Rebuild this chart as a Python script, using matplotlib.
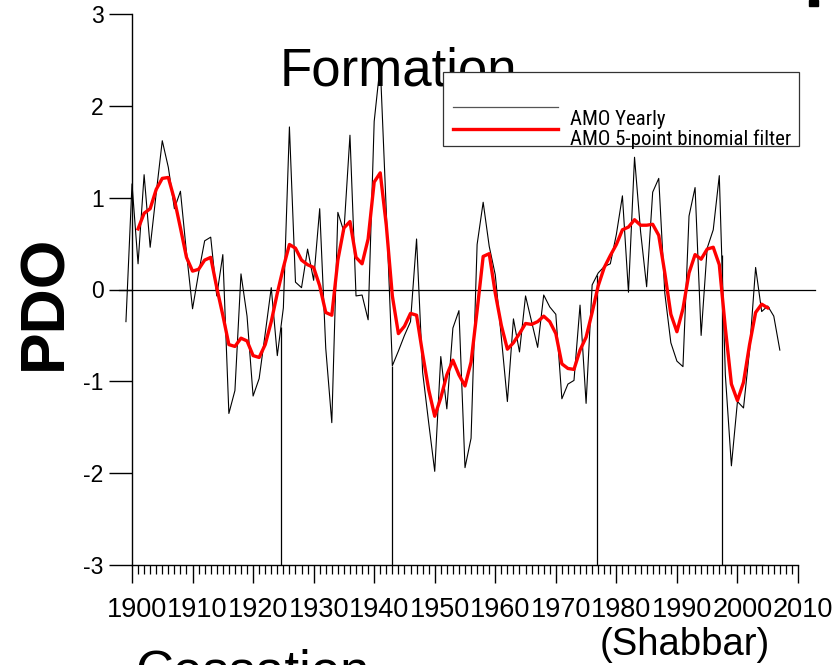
import numpy as np
import matplotlib
matplotlib.use("Agg")
import matplotlib.pyplot as plt
import matplotlib.transforms as mtransforms
from matplotlib import font_manager
from matplotlib.patches import Rectangle
from matplotlib.lines import Line2D
from matplotlib.ticker import MultipleLocator

# ---------------- data ----------------
amo_years = list(range(1899, 2008))
amo_yearly = [
    -0.35, 1.15, 0.28, 1.25, 0.46, 1.05, 1.62, 1.33, 0.88, 1.07,   # 1899-1908
    0.40, -0.21, 0.18, 0.53, 0.57, -0.07, 0.38, -1.35, -1.10, 0.17,  # 1909-1918
    -0.29, -1.16, -0.97, -0.48, 0.02, -0.72, -0.20, 1.77, 0.08, 0.02,  # 1919-1928
    0.44, 0.10, 0.88, -0.64, -1.45, 0.84, 0.63, 1.68, -0.07, -0.06,  # 1929-1938
    -0.33, 1.83, 2.45, 0.85, -0.83, -0.67, -0.50, -0.35, 0.55, -0.90,  # 1939-1948
    -1.45, -1.98, -0.73, -1.30, -0.42, -0.23, -1.94, -1.62, 0.49, 0.95,  # 1949-1958
    0.47, 0.16, -0.52, -1.22, -0.32, -0.68, -0.07, -0.35, -0.63, -0.06,  # 1959-1968
    -0.19, -0.27, -1.19, -1.03, -0.99, -0.17, -1.24, 0.05, 0.18, 0.25,  # 1969-1978
    0.28, 0.60, 1.02, -0.03, 1.44, 0.63, 0.03, 1.06, 1.21, -0.04,  # 1979-1988
    -0.58, -0.78, -0.84, 0.80, 1.11, -0.50, 0.45, 0.65, 1.24, -0.93,  # 1989-1998
    -1.92, -1.22, -1.29, -0.66, 0.24, -0.24, -0.18, -0.29, -0.66,  # 1999-2007
]
filt_years = list(range(1901, 2006))
amo_filtered = [
    0.66, 0.83, 0.88, 1.09, 1.21, 1.22, 0.98, 0.67, 0.35, 0.20,   # 1901-1910
    0.22, 0.32, 0.35, 0.02, -0.28, -0.60, -0.62, -0.53, -0.56, -0.72,  # 1911-1920
    -0.74, -0.60, -0.35, -0.04, 0.24, 0.49, 0.45, 0.32, 0.27, 0.24,  # 1921-1930
    0.04, -0.25, -0.28, 0.32, 0.67, 0.74, 0.35, 0.28, 0.55, 1.17,  # 1931-1940
    1.27, 0.70, -0.07, -0.48, -0.40, -0.26, -0.28, -0.70, -1.09, -1.38,  # 1941-1950
    -1.18, -0.93, -0.77, -0.93, -1.05, -0.79, -0.23, 0.36, 0.39, -0.04,  # 1951-1960
    -0.39, -0.65, -0.58, -0.48, -0.37, -0.38, -0.35, -0.29, -0.35, -0.48,  # 1961-1970
    -0.81, -0.86, -0.87, -0.66, -0.52, -0.25, 0.04, 0.24, 0.37, 0.49,  # 1971-1980
    0.65, 0.68, 0.76, 0.70, 0.70, 0.71, 0.59, 0.18, -0.27, -0.46,  # 1981-1990
    -0.21, 0.18, 0.38, 0.33, 0.44, 0.46, 0.27, -0.42, -1.03, -1.21,  # 1991-2000
    -1.01, -0.60, -0.25, -0.16, -0.20,  # 2001-2005
]
regime_years = [1924.6, 1943.0, 1976.8, 1997.4]
regime_end = 2004.4
series_labels = ["AMO Yearly", "AMO 5-point binomial filter"]
x_ticks = list(range(1900, 2011, 10))
y_ticks = [-3, -2, -1, 0, 1, 2, 3]

# ---------------- style ----------------
names = {f.name for f in font_manager.fontManager.ttflist}
base_font = "Liberation Sans" if "Liberation Sans" in names else "DejaVu Sans"
narrow = None
for cand in ["Liberation Sans Narrow", "Roboto Condensed", "Open Sans Condensed",
             "Noto Sans Condensed", "DejaVu Sans Condensed", "Arial Narrow"]:
    if cand in names:
        narrow = cand
        break
plt.rcParams["font.family"] = [base_font, "DejaVu Sans"]
plt.rcParams["axes.unicode_minus"] = False

W, H = 837, 665
fig = plt.figure(figsize=(W / 100, H / 100), dpi=100)
ax = fig.add_axes([132 / W, 1 - 565 / H, (798 - 132) / W, (565 - 14) / H])

# data lines
ax.plot(amo_years, amo_yearly, color="black", lw=0.8, clip_on=False, zorder=3)
ax.plot(filt_years, amo_filtered, color="#ff0000", lw=2.4, zorder=4,
        solid_joinstyle="round")

# regime markers
tops = np.interp(regime_years, amo_years, amo_yearly)
ax.vlines(regime_years, -3, tops, color="black", lw=0.9, zorder=2)
ax.hlines(-3, regime_years[-1], regime_end, color="black", lw=0.9, zorder=2)

# zero line
ax.axhline(0, xmin=-0.02, xmax=1.025, color="black", lw=0.9, clip_on=False, zorder=2)

ax.set_xlim(1900, 2010)
ax.set_ylim(-3, 3)
ax.set_xticks(x_ticks)
ax.set_xticklabels([str(t) for t in x_ticks])
ax.xaxis.set_minor_locator(MultipleLocator(1))
ax.set_yticks(y_ticks)
ax.set_yticklabels([str(t) for t in y_ticks])

for s in ["top", "right"]:
    ax.spines[s].set_visible(False)
for s in ["left", "bottom"]:
    ax.spines[s].set_linewidth(1.0)

ax.tick_params(axis="y", which="major", direction="out", length=16.5, width=1.0,
               pad=4, labelsize=16.5)
ax.tick_params(axis="x", which="major", direction="out", length=13, width=1.0,
               pad=10, labelsize=19.5)
ax.tick_params(axis="x", which="minor", direction="out", length=6.5, width=0.9)
shift = mtransforms.ScaledTranslation(5 / 100, 0, fig.dpi_scale_trans)
for lab in ax.get_xticklabels():
    lab.set_transform(lab.get_transform() + shift)

# axis label
fig.text(45 / W, 1 - 302 / H, "PDO", rotation=90, ha="center", va="center",
         fontsize=45, fontweight="bold")

# annotations
fig.text(280 / W, 1 - 85 / H, "Formation", fontsize=38, ha="left", va="baseline")
fig.text(135 / W, 1 - 687 / H, "Cessation", fontsize=38, ha="left", va="baseline")
fig.text(600 / W, 1 - 655 / H, "(Shabbar)", fontsize=27.5, ha="left", va="baseline")
fig.patches.append(Rectangle((809 / W, 1 - 6 / H), 9 / W, 6 / H,
                             transform=fig.transFigure, color="black"))

# legend (drawn by hand to match the box layout)
fig.patches.append(Rectangle((443 / W, 1 - 146 / H), (799 - 443) / W, (146 - 72) / H,
                             transform=fig.transFigure, facecolor="white",
                             edgecolor="#333333", lw=0.9, zorder=5))
fig.lines.append(Line2D([453 / W, 558 / W], [1 - 107 / H] * 2,
                        transform=fig.transFigure, color="#555555", lw=0.9, zorder=6))
fig.lines.append(Line2D([453 / W, 558 / W], [1 - 129 / H] * 2,
                        transform=fig.transFigure, color="#ff0000", lw=2.4, zorder=6))
if narrow:
    lfam, lsize = [narrow, "DejaVu Sans"], 15
else:
    lfam, lsize = [base_font, "DejaVu Sans"], 13.8
fig.text(570 / W, 1 - 125 / H, series_labels[0], fontsize=lsize,
         family=lfam, ha="left", va="baseline", zorder=7)
fig.text(570 / W, 1 - 145 / H, series_labels[1], fontsize=lsize,
         family=lfam, ha="left", va="baseline", zorder=7)

fig.savefig("out.png", dpi=100)
